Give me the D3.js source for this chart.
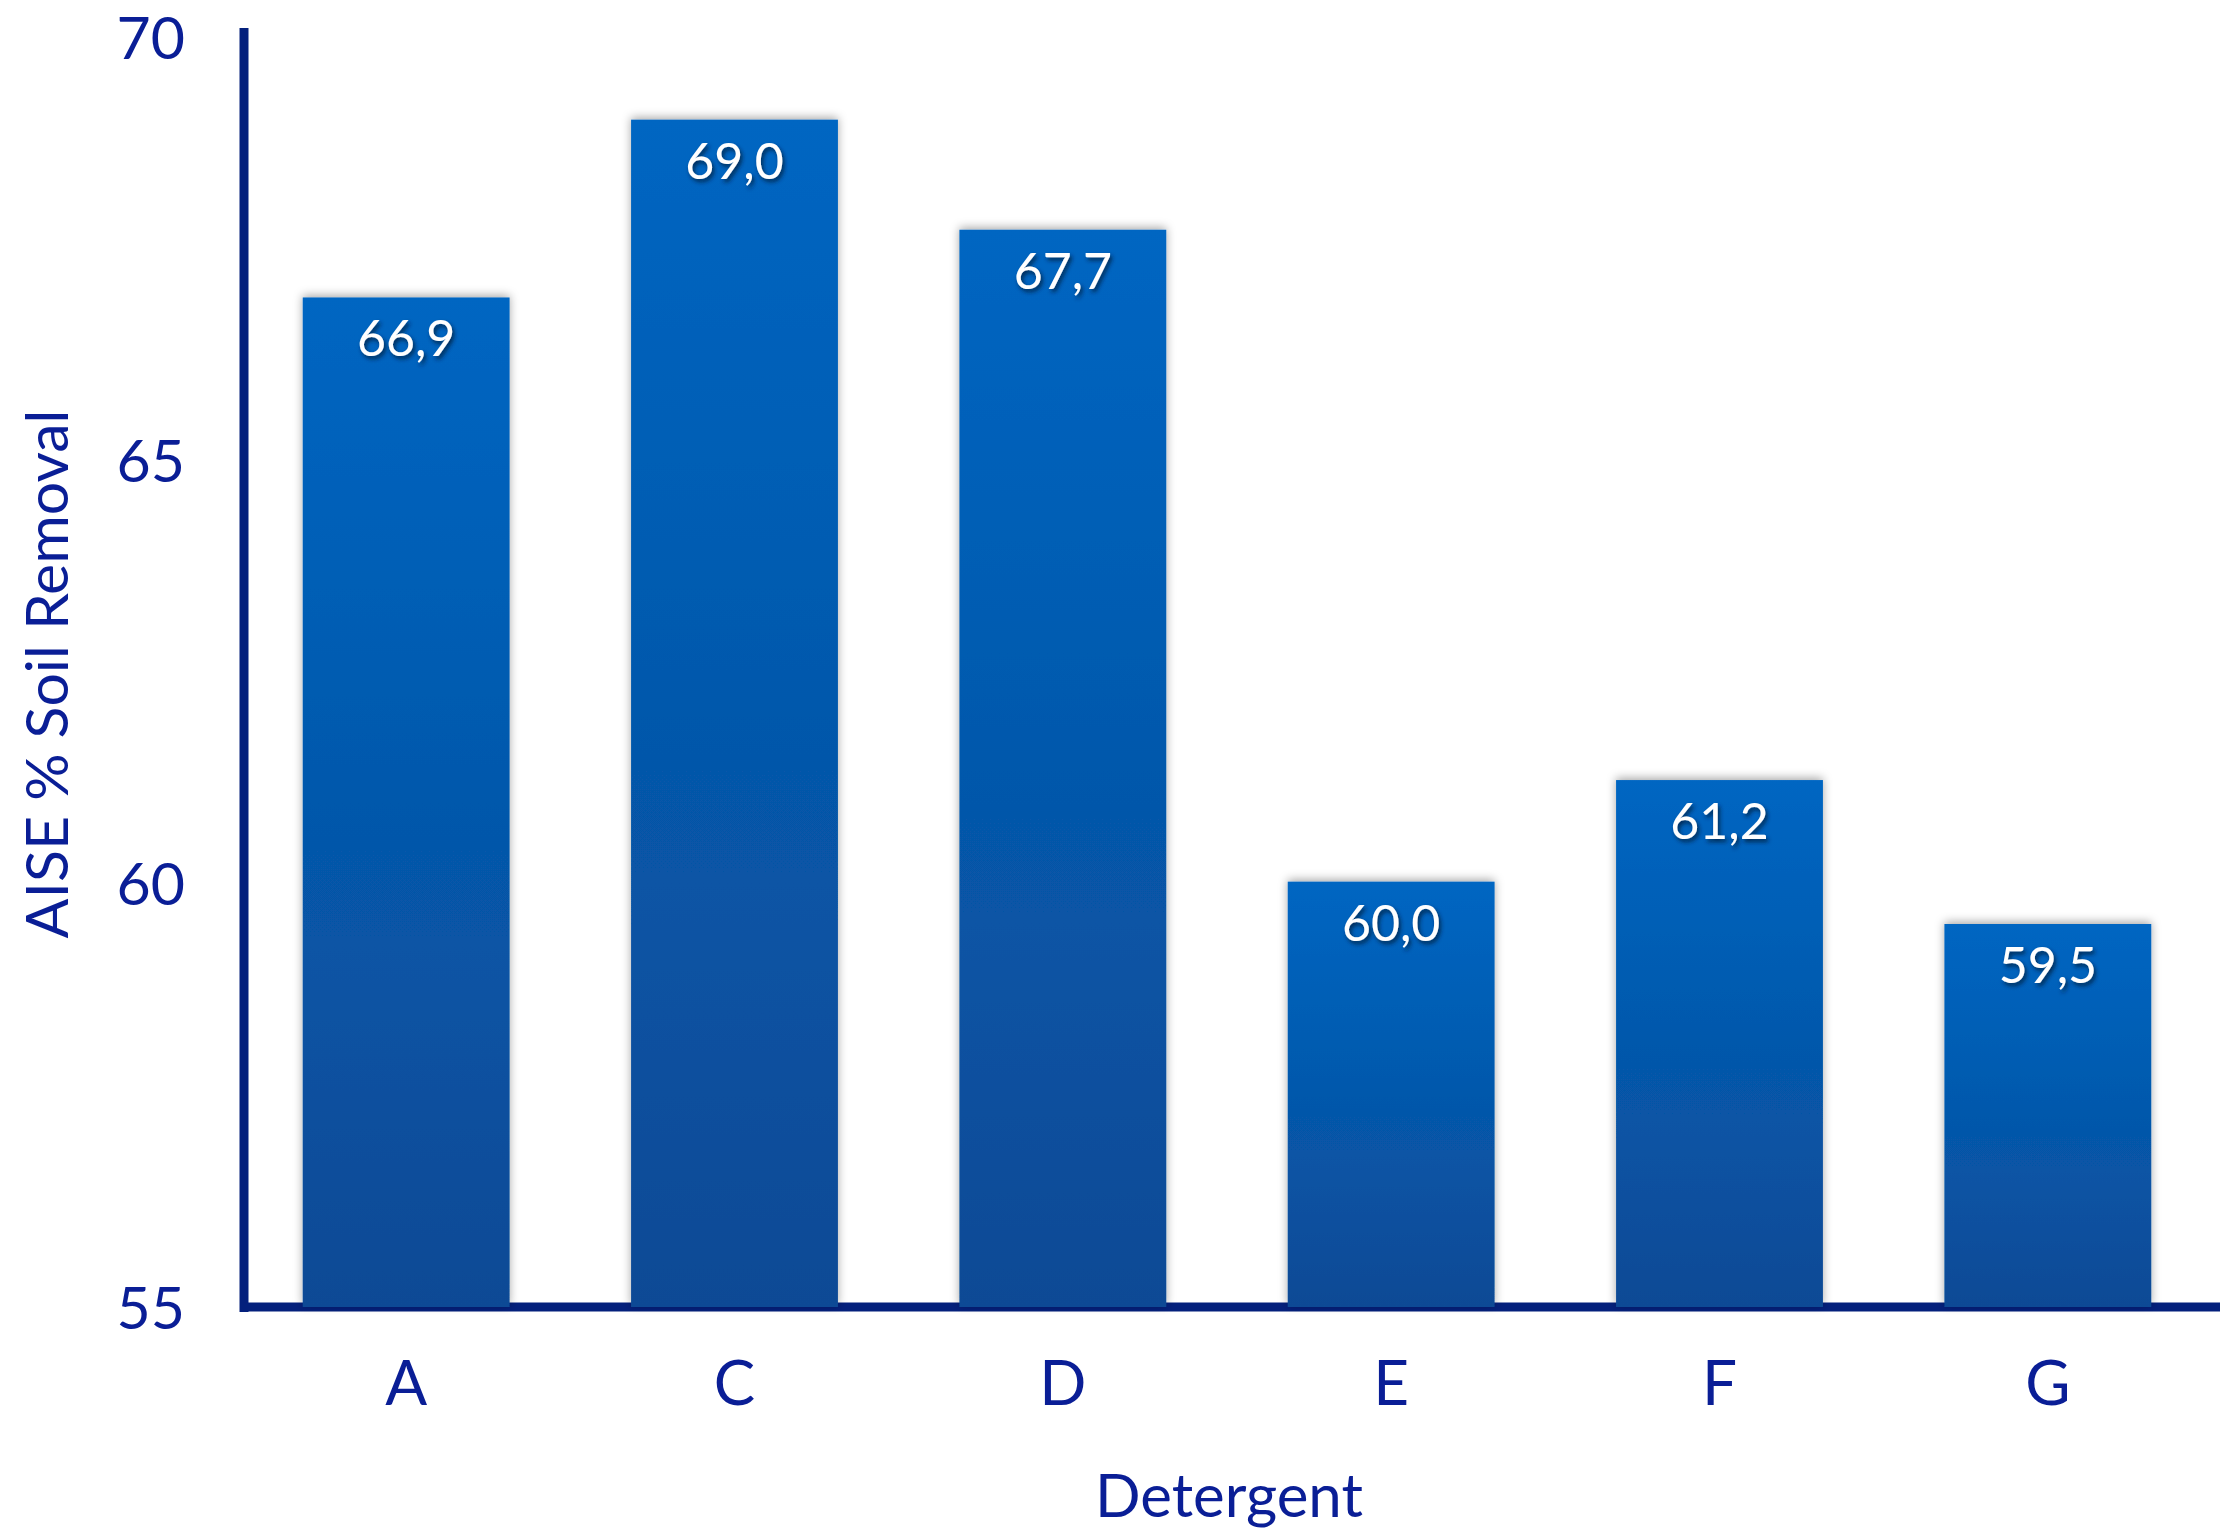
<!DOCTYPE html>
<html>
<head>
<meta charset="utf-8">
<script src="https://cdn.jsdelivr.net/npm/d3@7"></script>
<style>
  html, body { margin: 0; padding: 0; background: #ffffff; }
  svg { display: block; }
</style>
</head>
<body>
<svg id="chart" width="2220" height="1537"></svg>
<script>
// Detergent performance: AISE % soil removal
const categories = ["A", "C", "D", "E", "F", "G"];
const values = [66.9, 69.0, 67.7, 60.0, 61.2, 59.5];
const valueLabels = ["66,9", "69,0", "67,7", "60,0", "61,2", "59,5"];
const yTicks = [55, 60, 65, 70];
const yTitle = "AISE % Soil Removal";
const xTitle = "Detergent";

const W = 2220, H = 1537;
const font = "Lato, 'Open Sans', sans-serif";
const textColor = "#0a1e96";
const axisColor = "#04207c";

const svg = d3.select("#chart");
const defs = svg.append("defs");

const grad = defs.append("linearGradient")
  .attr("id", "barFill").attr("x1", 0).attr("y1", 0).attr("x2", 0).attr("y2", 1);
grad.append("stop").attr("offset", "0%").attr("stop-color", "#0066c2");
grad.append("stop").attr("offset", "100%").attr("stop-color", "#0b4a95");

const barShadow = defs.append("filter").attr("id", "barShadow")
  .attr("x", "-10%").attr("y", "-10%").attr("width", "120%").attr("height", "120%");
barShadow.append("feDropShadow").attr("dx", 0).attr("dy", -2)
  .attr("stdDeviation", 5).attr("flood-color", "#000").attr("flood-opacity", 0.35);

const textShadow = defs.append("filter").attr("id", "textShadow")
  .attr("x", "-20%").attr("y", "-30%").attr("width", "140%").attr("height", "160%");
textShadow.append("feDropShadow").attr("dx", 2).attr("dy", 3)
  .attr("stdDeviation", 2).attr("flood-color", "#001a40").attr("flood-opacity", 0.85);

const x = d3.scaleBand().domain(categories).range([242, 2212]).paddingInner(0.37).paddingOuter(0.185);
const y = d3.scaleLinear().domain([55, 70]).range([1305, 35]);

// Y axis tick labels
const yAxis = d3.axisLeft(y).tickValues(yTicks).tickSize(0).tickPadding(0).tickFormat(d3.format("d"));
const yg = svg.append("g").attr("transform", "translate(185,2)").call(yAxis);
yg.select(".domain").remove();
yg.selectAll("text")
  .attr("font-family", font).attr("font-size", 59).attr("fill", textColor)
  .attr("dy", "0.36em");

// Axis lines
svg.append("line")
  .attr("x1", 244).attr("x2", 244).attr("y1", 28).attr("y2", y(55) + 7)
  .attr("stroke", axisColor).attr("stroke-width", 9);
svg.append("line")
  .attr("x1", 240).attr("x2", W).attr("y1", y(55) + 2).attr("y2", y(55) + 2)
  .attr("stroke", axisColor).attr("stroke-width", 9);

// Bars
svg.append("g").selectAll("rect")
  .data(values)
  .join("rect")
  .attr("x", (d, i) => x(categories[i]))
  .attr("width", x.bandwidth())
  .attr("y", d => y(d))
  .attr("height", d => y(55) - y(d) + 2)
  .attr("fill", "url(#barFill)")
  .attr("filter", "url(#barShadow)");

// Value labels inside the bars
svg.append("g").selectAll("text")
  .data(values)
  .join("text")
  .attr("x", (d, i) => x(categories[i]) + x.bandwidth() / 2)
  .attr("y", d => y(d) + 59)
  .attr("text-anchor", "middle")
  .attr("font-family", font).attr("font-size", 50)
  .attr("fill", "#ffffff")
  .attr("filter", "url(#textShadow)")
  .text((d, i) => valueLabels[i]);

// Category labels
const xAxis = d3.axisBottom(x).tickSize(0).tickPadding(0);
const xg = svg.append("g").attr("transform", "translate(0,1405)").call(xAxis);
xg.select(".domain").remove();
xg.selectAll("text")
  .attr("font-family", font).attr("font-size", 62).attr("fill", textColor)
  .attr("dy", 0);

// Axis titles
svg.append("text")
  .attr("x", 1229).attr("y", 1517)
  .attr("text-anchor", "middle")
  .attr("font-family", font).attr("font-size", 60).attr("fill", textColor)
  .text(xTitle);

svg.append("text")
  .attr("transform", "translate(68,674) rotate(-90)")
  .attr("text-anchor", "middle")
  .attr("font-family", font).attr("font-size", 59).attr("fill", textColor)
  .text(yTitle);
</script>
</body>
</html>
